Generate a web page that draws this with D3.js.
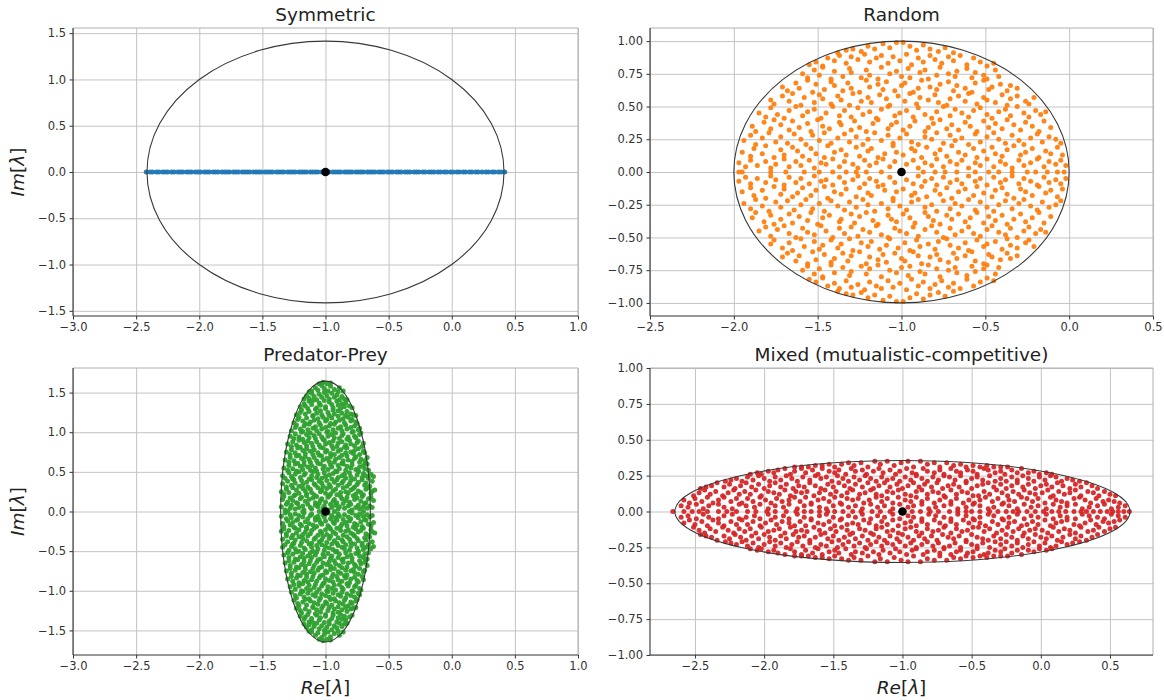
<!DOCTYPE html>
<html>
<head>
<meta charset="utf-8">
<script src="https://cdn.jsdelivr.net/npm/d3@7/dist/d3.min.js"></script>
<style>
  html, body { margin: 0; padding: 0; background: #fff; }
  svg text { font-family: "DejaVu Sans", "Liberation Sans", sans-serif; }
</style>
</head>
<body>
<svg id="fig" width="1164" height="700"></svg>
<script>
// ---------------------------------------------------------------------------
// Eigenvalue spectra of four community matrices (diagonal -1).
// Complex eigenvalues of a real matrix come in conjugate pairs, so each pair
// is stored once as [Re, Im] with Im > 0; real eigenvalues are stored apart.
// ---------------------------------------------------------------------------

// Symmetric interactions: every eigenvalue is real
const symmetricEigs = [-2.42,-2.39,-2.37,-2.34,-2.32,-2.29,-2.27,-2.25,-2.22,-2.20,-2.17,-2.15,-2.13,-2.10,-2.08,-2.06,-2.03,-2.01,-1.99,-1.96,-1.94,-1.92,-1.89,-1.87,-1.85,-1.82,-1.80,-1.78,-1.76,-1.73,-1.71,-1.69,-1.66,-1.64,-1.62,-1.60,-1.57,-1.55,-1.53,-1.51,-1.48,-1.46,-1.44,-1.42,-1.39,-1.37,-1.35,-1.33,-1.30,-1.28,-1.26,-1.24,-1.21,-1.19,-1.17,-1.15,-1.12,-1.10,-1.08,-1.06,-1.03,-1.01,-0.99,-0.97,-0.94,-0.92,-0.90,-0.88,-0.85,-0.83,-0.81,-0.79,-0.76,-0.74,-0.72,-0.70,-0.67,-0.65,-0.63,-0.61,-0.58,-0.56,-0.54,-0.51,-0.49,-0.47,-0.44,-0.42,-0.40,-0.37,-0.35,-0.33,-0.30,-0.28,-0.26,-0.23,-0.21,-0.18,-0.16,-0.14,-0.11,-0.09,-0.06,-0.04,-0.01,0.01,0.04,0.06,0.09,0.11,0.14,0.16,0.19,0.21,0.24,0.27,0.29,0.32,0.34,0.37,0.39,0.42];

// Random interactions
const randomReal = [-1.97,-1.95,-1.78,-1.69,-1.58,-1.49,-1.41,-1.33,-1.27,-1.21,-1.12,-0.87,-0.80,-0.74,-0.67,-0.56,-0.48,-0.42,-0.34,-0.25,-0.20,-0.13,-0.07,-0.03];
const randomComplex = [
[-1.97,.07],[-1.93,.04],[-1.90,.09],[-1.86,.05],[-1.81,.08],[-1.78,.03],[-1.75,.06],[-1.70,.10],[-1.67,.04],[-1.63,.08],[-1.60,.05],[-1.55,.09],[-1.52,.03],[-1.48,.07],[-1.45,.06],[-1.41,.10],[-1.37,.04],[-1.34,.08],[-1.29,.06],[-1.26,.03],[-1.22,.09],[-1.19,.05],[-1.15,.07],[-1.11,.10],[-1.07,.04],[-1.04,.08],[-0.97,.06],[-0.93,.09],[-0.90,.03],[-0.86,.07],[-0.82,.05],[-0.79,.10],[-0.75,.04],[-0.71,.08],[-0.67,.06],[-0.64,.09],[-0.60,.03],[-0.56,.07],[-0.53,.05],[-0.49,.10],[-0.45,.04],[-0.41,.08],[-0.38,.06],[-0.34,.03],[-0.30,.09],[-0.27,.05],[-0.23,.07],[-0.19,.10],[-0.15,.04],[-0.12,.08],[-0.08,.06],[-0.05,.09],[-0.02,.05],
[-1.95,.15],[-1.90,.12],[-1.88,.18],[-1.83,.14],[-1.81,.20],[-1.76,.11],[-1.72,.17],[-1.70,.13],[-1.65,.19],[-1.62,.16],[-1.59,.12],[-1.54,.18],[-1.51,.14],[-1.46,.11],[-1.44,.20],[-1.40,.15],[-1.36,.17],[-1.33,.13],[-1.27,.19],[-1.25,.12],[-1.20,.16],[-1.18,.18],[-1.14,.11],[-1.10,.14],[-1.05,.20],[-1.03,.15],[-0.99,.13],[-0.94,.18],[-0.92,.16],[-0.88,.11],[-0.85,.19],[-0.80,.14],[-0.77,.17],[-0.73,.12],[-0.70,.20],[-0.66,.15],[-0.62,.13],[-0.57,.18],[-0.55,.11],[-0.51,.16],[-0.46,.19],[-0.44,.14],[-0.40,.12],[-0.37,.17],[-0.33,.20],[-0.29,.13],[-0.26,.15],[-0.22,.18],[-0.18,.11],[-0.14,.16],[-0.11,.14],[-0.07,.19],[-0.04,.13],
[-1.94,.24],[-1.90,.28],[-1.87,.21],[-1.83,.26],[-1.79,.30],[-1.75,.23],[-1.72,.27],[-1.68,.22],[-1.64,.29],[-1.60,.25],[-1.57,.21],[-1.53,.28],[-1.49,.24],[-1.46,.30],[-1.42,.22],[-1.38,.26],[-1.34,.29],[-1.31,.23],[-1.27,.27],[-1.23,.21],[-1.20,.25],[-1.16,.30],[-1.12,.24],[-1.08,.28],[-1.05,.22],[-1.01,.26],[-0.97,.29],[-0.94,.23],[-0.90,.21],[-0.86,.27],[-0.82,.25],[-0.79,.30],[-0.75,.22],[-0.71,.28],[-0.68,.24],[-0.64,.26],[-0.60,.21],[-0.56,.29],[-0.53,.23],[-0.49,.27],[-0.45,.30],[-0.42,.25],[-0.38,.22],[-0.34,.28],[-0.30,.24],[-0.27,.21],[-0.23,.26],[-0.19,.29],[-0.16,.23],[-0.12,.27],[-0.08,.25],[-0.05,.22],
[-1.89,.35],[-1.87,.31],[-1.82,.38],[-1.78,.33],[-1.76,.40],[-1.72,.36],[-1.67,.32],[-1.65,.39],[-1.61,.34],[-1.56,.37],[-1.54,.31],[-1.50,.40],[-1.47,.35],[-1.43,.33],[-1.37,.38],[-1.36,.36],[-1.30,.32],[-1.28,.39],[-1.25,.34],[-1.21,.31],[-1.17,.37],[-1.14,.40],[-1.08,.33],[-1.06,.36],[-1.03,.38],[-0.99,.32],[-0.95,.35],[-0.92,.39],[-0.86,.31],[-0.84,.34],[-0.81,.37],[-0.77,.40],[-0.73,.33],[-0.70,.36],[-0.66,.32],[-0.62,.38],[-0.59,.35],[-0.55,.31],[-0.51,.39],[-0.48,.34],[-0.44,.37],[-0.40,.33],[-0.37,.40],[-0.33,.36],[-0.29,.32],[-0.26,.38],[-0.22,.35],[-0.18,.31],[-0.15,.39],[-0.11,.34],
[-1.85,.45],[-1.81,.42],[-1.78,.49],[-1.74,.44],[-1.70,.41],[-1.67,.47],[-1.63,.50],[-1.59,.43],[-1.56,.46],[-1.52,.48],[-1.48,.41],[-1.45,.45],[-1.41,.50],[-1.37,.43],[-1.34,.47],[-1.30,.42],[-1.26,.49],[-1.23,.44],[-1.19,.46],[-1.15,.41],[-1.12,.48],[-1.08,.50],[-1.04,.43],[-1.01,.45],[-0.97,.47],[-0.93,.42],[-0.90,.49],[-0.86,.44],[-0.82,.41],[-0.79,.46],[-0.75,.50],[-0.71,.43],[-0.68,.48],[-0.64,.45],[-0.60,.42],[-0.57,.47],[-0.53,.49],[-0.49,.44],[-0.46,.41],[-0.42,.46],[-0.38,.48],[-0.35,.43],[-0.31,.50],[-0.27,.45],[-0.24,.42],[-0.20,.47],[-0.17,.44],[-0.14,.46],
[-1.78,.55],[-1.76,.52],[-1.71,.58],[-1.67,.54],[-1.65,.60],[-1.60,.51],[-1.58,.57],[-1.52,.53],[-1.49,.59],[-1.47,.56],[-1.42,.52],[-1.38,.58],[-1.36,.55],[-1.31,.51],[-1.29,.60],[-1.24,.54],[-1.20,.57],[-1.18,.53],[-1.13,.59],[-1.09,.56],[-1.07,.51],[-1.02,.58],[-0.98,.54],[-0.95,.60],[-0.91,.52],[-0.89,.57],[-0.84,.55],[-0.80,.59],[-0.78,.53],[-0.73,.51],[-0.71,.56],[-0.66,.58],[-0.62,.54],[-0.60,.60],[-0.55,.52],[-0.51,.57],[-0.49,.55],[-0.44,.53],[-0.40,.59],[-0.37,.51],[-0.35,.56],[-0.31,.58],[-0.26,.54],[-0.24,.52],[-0.21,.57],
[-1.71,.65],[-1.68,.62],[-1.63,.68],[-1.61,.64],[-1.56,.70],[-1.53,.61],[-1.51,.67],[-1.46,.63],[-1.42,.69],[-1.40,.66],[-1.35,.62],[-1.32,.68],[-1.30,.64],[-1.25,.61],[-1.21,.70],[-1.19,.65],[-1.14,.67],[-1.11,.63],[-1.09,.69],[-1.04,.62],[-1.00,.66],[-0.98,.68],[-0.93,.61],[-0.90,.64],[-0.88,.70],[-0.83,.65],[-0.79,.63],[-0.77,.67],[-0.72,.69],[-0.69,.62],[-0.67,.66],[-0.62,.64],[-0.58,.61],[-0.56,.68],[-0.51,.70],[-0.48,.63],[-0.46,.65],[-0.41,.67],[-0.37,.62],[-0.35,.66],[-0.31,.64],
[-1.59,.75],[-1.56,.72],[-1.52,.78],[-1.49,.74],[-1.47,.80],[-1.42,.71],[-1.40,.77],[-1.35,.73],[-1.31,.79],[-1.30,.76],[-1.24,.72],[-1.21,.78],[-1.19,.74],[-1.14,.71],[-1.12,.80],[-1.07,.75],[-1.03,.77],[-1.00,.73],[-0.96,.79],[-0.95,.72],[-0.89,.76],[-0.86,.78],[-0.84,.71],[-0.79,.74],[-0.77,.80],[-0.72,.75],[-0.68,.73],[-0.67,.77],[-0.61,.79],[-0.58,.72],[-0.56,.76],[-0.51,.74],[-0.49,.71],[-0.44,.78],[-0.42,.73],
[-1.55,.82],[-1.51,.84],[-1.47,.81],[-1.44,.87],[-1.40,.85],[-1.37,.89],[-1.33,.83],[-1.30,.88],[-1.26,.86],[-1.22,.90],[-1.19,.84],[-1.15,.87],[-1.12,.89],[-1.08,.83],[-1.05,.88],[-1.01,.85],[-0.97,.90],[-0.94,.82],[-0.90,.87],[-0.87,.84],[-0.83,.89],[-0.80,.86],[-0.76,.83],[-0.72,.88],[-0.69,.85],[-0.65,.89],[-0.61,.82],[-0.57,.87],[-0.53,.84],[-0.49,.81],[-0.45,.83],
[-1.38,.91],[-1.33,.93],[-1.29,.94],[-1.24,.92],[-1.20,.96],[-1.16,.94],[-1.11,.98],[-1.07,.95],[-1.03,.99],[-0.99,.99],[-0.95,.96],[-0.91,.93],[-0.87,.97],[-0.83,.94],[-0.78,.92],[-0.74,.95],[-0.69,.91]
];

// Predator-prey interactions
const predPreyReal = [-1.30,-1.18,-1.05,-0.93,-0.81,-0.70];
const predPreyComplex = [
[-1.35,.06],[-1.32,.02],[-1.31,.09],[-1.28,.04],[-1.27,.08],[-1.24,.03],[-1.22,.10],[-1.21,.05],[-1.18,.07],[-1.17,.02],[-1.14,.09],[-1.12,.05],[-1.11,.03],[-1.08,.08],[-1.06,.06],[-1.05,.10],[-1.02,.04],[-1.01,.07],[-0.98,.02],[-0.96,.09],[-0.95,.05],[-0.92,.08],[-0.90,.03],[-0.89,.06],[-0.86,.10],[-0.85,.04],[-0.82,.07],[-0.80,.09],[-0.79,.02],[-0.76,.05],[-0.74,.08],[-0.73,.03],[-0.70,.06],[-0.69,.10],[-0.67,.04],[-0.65,.07],[-0.63,.05],
[-1.34,.15],[-1.33,.19],[-1.30,.12],[-1.28,.17],[-1.26,.14],[-1.25,.20],[-1.23,.11],[-1.20,.16],[-1.19,.18],[-1.16,.13],[-1.15,.20],[-1.13,.15],[-1.10,.17],[-1.08,.11],[-1.07,.19],[-1.04,.14],[-1.03,.16],[-1.00,.12],[-0.98,.18],[-0.97,.20],[-0.94,.13],[-0.93,.15],[-0.91,.11],[-0.88,.19],[-0.87,.16],[-0.84,.14],[-0.83,.18],[-0.81,.12],[-0.78,.20],[-0.77,.15],[-0.75,.17],[-0.72,.13],[-0.71,.19],[-0.68,.11],[-0.66,.16],[-0.64,.18],[-0.62,.14],
[-1.35,.25],[-1.33,.22],[-1.31,.28],[-1.29,.24],[-1.26,.30],[-1.24,.21],[-1.23,.27],[-1.21,.23],[-1.18,.29],[-1.16,.26],[-1.15,.22],[-1.12,.28],[-1.11,.24],[-1.09,.21],[-1.06,.30],[-1.04,.25],[-1.03,.27],[-1.00,.23],[-0.99,.29],[-0.96,.22],[-0.94,.26],[-0.92,.28],[-0.91,.21],[-0.88,.24],[-0.86,.30],[-0.84,.25],[-0.82,.23],[-0.80,.27],[-0.78,.29],[-0.76,.22],[-0.74,.26],[-0.72,.24],[-0.70,.21],[-0.68,.28],[-0.66,.30],[-0.64,.23],[-0.63,.26],
[-1.34,.35],[-1.31,.31],[-1.30,.38],[-1.27,.33],[-1.25,.40],[-1.24,.36],[-1.21,.32],[-1.19,.39],[-1.18,.34],[-1.15,.37],[-1.14,.31],[-1.11,.40],[-1.09,.35],[-1.08,.33],[-1.05,.38],[-1.03,.36],[-1.02,.32],[-0.99,.39],[-0.97,.34],[-0.96,.31],[-0.93,.37],[-0.91,.40],[-0.90,.33],[-0.87,.36],[-0.86,.38],[-0.83,.32],[-0.81,.35],[-0.80,.39],[-0.77,.31],[-0.75,.34],[-0.74,.37],[-0.71,.40],[-0.69,.33],[-0.68,.36],[-0.65,.32],[-0.63,.38],
[-1.34,.45],[-1.32,.42],[-1.29,.49],[-1.27,.44],[-1.26,.41],[-1.24,.47],[-1.21,.50],[-1.20,.43],[-1.17,.46],[-1.16,.48],[-1.13,.41],[-1.11,.45],[-1.10,.50],[-1.07,.43],[-1.06,.47],[-1.03,.42],[-1.01,.49],[-1.00,.44],[-0.97,.46],[-0.95,.41],[-0.94,.48],[-0.91,.50],[-0.90,.43],[-0.87,.45],[-0.85,.47],[-0.84,.42],[-0.81,.49],[-0.80,.44],[-0.77,.41],[-0.75,.46],[-0.74,.50],[-0.71,.43],[-0.70,.48],[-0.68,.45],[-0.66,.42],[-0.64,.47],
[-1.33,.55],[-1.30,.52],[-1.29,.58],[-1.26,.54],[-1.24,.60],[-1.23,.51],[-1.20,.57],[-1.18,.53],[-1.17,.59],[-1.14,.56],[-1.12,.52],[-1.11,.58],[-1.08,.55],[-1.07,.51],[-1.04,.60],[-1.02,.54],[-1.01,.57],[-0.98,.53],[-0.96,.59],[-0.95,.56],[-0.92,.51],[-0.90,.58],[-0.89,.54],[-0.86,.60],[-0.84,.52],[-0.83,.57],[-0.80,.55],[-0.79,.59],[-0.76,.53],[-0.74,.51],[-0.73,.56],[-0.70,.58],[-0.69,.54],[-0.67,.60],[-0.66,.52],
[-1.32,.65],[-1.29,.62],[-1.28,.68],[-1.25,.64],[-1.23,.70],[-1.22,.61],[-1.19,.67],[-1.17,.63],[-1.16,.69],[-1.13,.66],[-1.12,.62],[-1.09,.68],[-1.07,.64],[-1.06,.61],[-1.03,.70],[-1.02,.65],[-0.99,.67],[-0.97,.63],[-0.96,.69],[-0.93,.62],[-0.92,.66],[-0.89,.68],[-0.87,.61],[-0.86,.64],[-0.83,.70],[-0.82,.65],[-0.79,.63],[-0.77,.67],[-0.76,.69],[-0.73,.62],[-0.72,.66],[-0.69,.64],[-0.68,.61],[-0.67,.68],
[-1.31,.75],[-1.28,.72],[-1.27,.78],[-1.24,.74],[-1.22,.80],[-1.21,.71],[-1.18,.77],[-1.16,.73],[-1.15,.79],[-1.12,.76],[-1.10,.72],[-1.09,.78],[-1.06,.74],[-1.05,.71],[-1.02,.80],[-1.00,.75],[-0.99,.77],[-0.96,.73],[-0.94,.79],[-0.93,.72],[-0.90,.76],[-0.88,.78],[-0.87,.71],[-0.84,.74],[-0.83,.80],[-0.80,.75],[-0.78,.73],[-0.77,.77],[-0.74,.79],[-0.73,.72],[-0.70,.76],[-0.69,.74],
[-1.30,.85],[-1.27,.82],[-1.26,.88],[-1.23,.84],[-1.21,.90],[-1.20,.81],[-1.17,.87],[-1.15,.83],[-1.14,.89],[-1.11,.86],[-1.10,.82],[-1.07,.88],[-1.05,.84],[-1.04,.81],[-1.01,.90],[-1.00,.85],[-0.97,.87],[-0.95,.83],[-0.94,.89],[-0.91,.82],[-0.90,.86],[-0.87,.88],[-0.85,.81],[-0.84,.84],[-0.81,.90],[-0.80,.85],[-0.77,.83],[-0.75,.87],[-0.74,.89],[-0.71,.82],[-0.70,.86],
[-1.28,.95],[-1.25,.92],[-1.24,.98],[-1.21,.94],[-1.19,1.00],[-1.18,.91],[-1.15,.97],[-1.13,.93],[-1.12,.99],[-1.09,.96],[-1.08,.92],[-1.05,.98],[-1.03,.94],[-1.02,.91],[-0.99,1.00],[-0.98,.95],[-0.95,.97],[-0.93,.93],[-0.92,.99],[-0.89,.92],[-0.87,.96],[-0.86,.98],[-0.83,.91],[-0.82,.94],[-0.79,1.00],[-0.77,.95],[-0.76,.93],[-0.73,.97],[-0.72,.99],
[-1.27,1.02],[-1.24,1.06],[-1.23,1.09],[-1.20,1.04],[-1.18,1.01],[-1.17,1.08],[-1.14,1.03],[-1.13,1.10],[-1.10,1.05],[-1.08,1.07],[-1.07,1.02],[-1.04,1.09],[-1.03,1.04],[-1.00,1.06],[-0.98,1.01],[-0.97,1.08],[-0.94,1.03],[-0.93,1.10],[-0.90,1.05],[-0.88,1.07],[-0.87,1.02],[-0.84,1.09],[-0.83,1.04],[-0.80,1.06],[-0.78,1.01],[-0.77,1.08],[-0.74,1.03],[-0.73,1.05],
[-1.25,1.12],[-1.22,1.16],[-1.21,1.19],[-1.18,1.14],[-1.16,1.11],[-1.15,1.18],[-1.12,1.13],[-1.10,1.20],[-1.09,1.15],[-1.06,1.17],[-1.05,1.12],[-1.02,1.19],[-1.00,1.14],[-0.99,1.16],[-0.96,1.11],[-0.95,1.18],[-0.92,1.13],[-0.90,1.20],[-0.89,1.15],[-0.86,1.17],[-0.85,1.12],[-0.82,1.19],[-0.80,1.14],[-0.79,1.16],[-0.76,1.13],[-0.75,1.11],
[-1.23,1.22],[-1.20,1.25],[-1.19,1.28],[-1.16,1.23],[-1.14,1.30],[-1.13,1.26],[-1.10,1.21],[-1.08,1.29],[-1.07,1.24],[-1.04,1.27],[-1.03,1.22],[-1.00,1.30],[-0.98,1.25],[-0.97,1.21],[-0.94,1.28],[-0.93,1.23],[-0.90,1.27],[-0.88,1.30],[-0.87,1.24],[-0.84,1.21],[-0.83,1.26],[-0.80,1.23],[-0.78,1.22],[-0.76,1.21],
[-1.20,1.32],[-1.17,1.36],[-1.16,1.33],[-1.13,1.39],[-1.11,1.35],[-1.10,1.40],[-1.07,1.31],[-1.05,1.37],[-1.04,1.34],[-1.01,1.40],[-1.00,1.32],[-0.97,1.38],[-0.95,1.35],[-0.94,1.31],[-0.91,1.39],[-0.90,1.34],[-0.87,1.36],[-0.85,1.32],[-0.84,1.37],[-0.81,1.33],[-0.79,1.31],
[-1.17,1.42],[-1.15,1.46],[-1.13,1.43],[-1.11,1.49],[-1.09,1.45],[-1.07,1.41],[-1.05,1.48],[-1.03,1.44],[-1.01,1.50],[-0.99,1.46],[-0.97,1.42],[-0.95,1.49],[-0.93,1.44],[-0.91,1.47],[-0.89,1.41],[-0.87,1.45],[-0.85,1.42],[-0.83,1.41],
[-1.13,1.51],[-1.11,1.52],[-1.08,1.56],[-1.06,1.53],[-1.03,1.59],[-1.01,1.55],[-0.98,1.52],[-0.96,1.58],[-0.93,1.54],[-0.90,1.51],[-0.89,1.56],[-0.86,1.52],
[-1.05,1.61],[-1.02,1.63],[-0.99,1.61],[-0.96,1.62],
[-0.62,.44],[-0.61,.27]
];

// Mixed mutualistic-competitive interactions
const mixedReal = [-2.66,-2.58,-2.52,-2.47,-2.41,-2.33,-2.27,-2.20,-2.12,-2.06,-1.98,-1.92,-1.84,-1.77,-1.71,-1.66,-1.60,-1.54,-1.49,-1.43,-1.36,-1.30,-1.22,-1.16,-1.09,-0.93,-0.87,-0.80,-0.74,-0.66,-0.60,-0.54,-0.50,-0.44,-0.37,-0.31,-0.25,-0.20,-0.16,-0.10,-0.04,0.02,0.08,0.13,0.18,0.24,0.29,0.33,0.38,0.43,0.48,0.52,0.56,0.60,0.64];
const mixedComplex = [
[-2.60,.04],[-2.55,.03],[-2.49,.05],[-2.44,.02],[-2.40,.04],[-2.33,.05],[-2.29,.03],[-2.23,.02],[-2.18,.05],[-2.13,.04],[-2.07,.03],[-2.03,.05],[-1.97,.02],[-1.92,.04],[-1.86,.03],[-1.82,.05],[-1.76,.02],[-1.71,.04],[-1.66,.05],[-1.60,.03],[-1.55,.02],[-1.50,.04],[-1.44,.05],[-1.39,.03],[-1.34,.04],[-1.29,.02],[-1.23,.05],[-1.18,.03],[-1.13,.04],[-1.07,.02],[-1.02,.05],[-0.96,.03],[-0.92,.04],[-0.86,.05],[-0.81,.02],[-0.76,.03],[-0.70,.04],[-0.65,.05],[-0.60,.02],[-0.54,.03],[-0.49,.05],[-0.44,.04],[-0.38,.02],[-0.34,.03],[-0.28,.05],[-0.23,.04],[-0.17,.02],[-0.12,.05],[-0.07,.03],[-0.02,.04],[0.04,.02],[0.09,.05],[0.14,.03],[0.19,.04],[0.25,.05],[0.30,.02],[0.35,.03],[0.41,.04],[0.46,.05],[0.51,.02],[0.56,.03],[0.61,.04],
[-2.58,.08],[-2.54,.06],[-2.50,.09],[-2.45,.07],[-2.41,.10],[-2.37,.06],[-2.33,.08],[-2.29,.10],[-2.24,.07],[-2.20,.09],[-2.16,.06],[-2.12,.09],[-2.08,.07],[-2.03,.10],[-1.99,.08],[-1.95,.06],[-1.91,.09],[-1.87,.07],[-1.82,.08],[-1.78,.10],[-1.74,.07],[-1.70,.10],[-1.66,.06],[-1.61,.08],[-1.57,.09],[-1.53,.07],[-1.49,.10],[-1.45,.06],[-1.40,.09],[-1.36,.08],[-1.32,.09],[-1.28,.06],[-1.24,.08],[-1.19,.10],[-1.15,.07],[-1.11,.09],[-1.07,.06],[-1.03,.10],[-0.98,.08],[-0.94,.07],[-0.90,.10],[-0.86,.07],[-0.82,.09],[-0.77,.06],[-0.73,.08],[-0.69,.10],[-0.65,.07],[-0.61,.09],[-0.56,.06],[-0.52,.08],[-0.48,.06],[-0.44,.08],[-0.40,.10],[-0.35,.07],[-0.31,.09],[-0.27,.06],[-0.23,.08],[-0.19,.07],[-0.14,.10],[-0.10,.09],[-0.06,.07],[-0.02,.09],[0.03,.06],[0.07,.10],[0.11,.08],[0.15,.07],[0.19,.06],[0.24,.09],[0.28,.10],[0.32,.08],[0.36,.06],[0.40,.09],[0.45,.07],[0.49,.08],[0.53,.07],[0.57,.06],
[-2.51,.11],[-2.47,.13],[-2.43,.15],[-2.39,.12],[-2.35,.14],[-2.30,.11],[-2.26,.13],[-2.22,.15],[-2.18,.12],[-2.14,.14],[-2.10,.12],[-2.06,.15],[-2.02,.11],[-1.97,.14],[-1.93,.13],[-1.89,.12],[-1.85,.15],[-1.81,.11],[-1.77,.14],[-1.73,.13],[-1.69,.14],[-1.64,.11],[-1.60,.13],[-1.56,.15],[-1.52,.12],[-1.48,.14],[-1.44,.11],[-1.40,.13],[-1.36,.15],[-1.31,.12],[-1.27,.13],[-1.23,.15],[-1.19,.12],[-1.15,.11],[-1.11,.14],[-1.07,.13],[-1.03,.15],[-0.98,.12],[-0.94,.11],[-0.90,.14],[-0.86,.15],[-0.82,.12],[-0.78,.14],[-0.74,.13],[-0.70,.11],[-0.65,.15],[-0.61,.12],[-0.57,.14],[-0.53,.13],[-0.49,.11],[-0.45,.11],[-0.41,.14],[-0.37,.12],[-0.32,.15],[-0.28,.13],[-0.24,.11],[-0.20,.14],[-0.16,.12],[-0.12,.15],[-0.08,.13],[-0.04,.12],[0.01,.13],[0.05,.15],[0.09,.11],[0.13,.14],[0.17,.12],[0.21,.13],[0.25,.15],[0.29,.11],[0.34,.14],[0.38,.13],[0.42,.11],[0.46,.14],[0.50,.12],[0.54,.11],
[-2.46,.16],[-2.42,.17],[-2.38,.18],[-2.34,.20],[-2.29,.17],[-2.25,.19],[-2.21,.16],[-2.17,.18],[-2.13,.20],[-2.09,.17],[-2.04,.19],[-2.00,.16],[-1.96,.18],[-1.92,.20],[-1.88,.17],[-1.84,.19],[-1.79,.16],[-1.75,.18],[-1.71,.17],[-1.67,.20],[-1.63,.18],[-1.59,.16],[-1.54,.19],[-1.50,.17],[-1.46,.20],[-1.42,.18],[-1.38,.16],[-1.34,.19],[-1.29,.17],[-1.25,.20],[-1.21,.16],[-1.17,.18],[-1.13,.20],[-1.09,.17],[-1.04,.19],[-1.00,.16],[-0.96,.18],[-0.92,.20],[-0.88,.17],[-0.84,.19],[-0.79,.17],[-0.75,.20],[-0.71,.16],[-0.67,.18],[-0.63,.19],[-0.59,.17],[-0.54,.20],[-0.50,.16],[-0.46,.18],[-0.42,.19],[-0.38,.20],[-0.34,.17],[-0.29,.19],[-0.25,.16],[-0.21,.18],[-0.17,.20],[-0.13,.17],[-0.09,.19],[-0.04,.16],[0.00,.18],[0.04,.19],[0.08,.17],[0.12,.20],[0.16,.18],[0.21,.16],[0.25,.19],[0.29,.17],[0.33,.20],[0.37,.18],[0.41,.16],
[-2.28,.21],[-2.24,.22],[-2.20,.23],[-2.16,.21],[-2.12,.24],[-2.08,.22],[-2.04,.25],[-2.00,.23],[-1.96,.21],[-1.92,.24],[-1.88,.22],[-1.84,.25],[-1.80,.23],[-1.76,.21],[-1.72,.24],[-1.67,.22],[-1.63,.25],[-1.59,.23],[-1.55,.24],[-1.51,.21],[-1.47,.25],[-1.43,.23],[-1.39,.21],[-1.35,.24],[-1.31,.22],[-1.27,.25],[-1.23,.23],[-1.19,.21],[-1.15,.24],[-1.11,.22],[-1.07,.23],[-1.02,.21],[-0.98,.24],[-0.94,.22],[-0.90,.25],[-0.86,.23],[-0.82,.21],[-0.78,.24],[-0.74,.22],[-0.70,.25],[-0.66,.24],[-0.62,.22],[-0.58,.25],[-0.54,.21],[-0.50,.23],[-0.46,.24],[-0.42,.22],[-0.37,.25],[-0.33,.21],[-0.29,.23],[-0.25,.21],[-0.21,.24],[-0.17,.22],[-0.13,.25],[-0.09,.23],[-0.05,.21],[-0.01,.24],[0.03,.22],[0.07,.25],[0.11,.24],[0.15,.21],[0.19,.23],[0.23,.22],[0.28,.21],
[-2.10,.26],[-2.05,.27],[-2.02,.26],[-1.97,.28],[-1.93,.27],[-1.90,.29],[-1.85,.30],[-1.81,.26],[-1.78,.28],[-1.73,.30],[-1.70,.27],[-1.65,.29],[-1.61,.26],[-1.58,.30],[-1.53,.28],[-1.49,.27],[-1.46,.29],[-1.41,.26],[-1.37,.30],[-1.34,.28],[-1.29,.29],[-1.26,.26],[-1.21,.28],[-1.17,.30],[-1.14,.27],[-1.09,.29],[-1.05,.26],[-1.02,.28],[-0.97,.30],[-0.93,.27],[-0.90,.26],[-0.85,.30],[-0.82,.28],[-0.77,.27],[-0.73,.29],[-0.70,.26],[-0.65,.30],[-0.61,.28],[-0.58,.27],[-0.53,.29],[-0.49,.28],[-0.46,.26],[-0.41,.30],[-0.38,.29],[-0.33,.27],[-0.29,.28],[-0.26,.26],[-0.21,.29],[-0.17,.27],[-0.14,.30],[-0.09,.27],[-0.05,.28],[-0.01,.26],[0.04,.27],[0.08,.26],
[-1.78,.31],[-1.73,.31],[-1.68,.31],[-1.63,.32],[-1.58,.32],[-1.53,.33],[-1.49,.31],[-1.44,.33],[-1.39,.34],[-1.35,.32],[-1.30,.34],[-1.25,.31],[-1.20,.35],[-1.16,.33],[-1.11,.35],[-1.06,.32],[-1.01,.34],[-0.96,.35],[-0.92,.31],[-0.87,.35],[-0.82,.33],[-0.77,.34],[-0.73,.31],[-0.68,.34],[-0.63,.32],[-0.58,.33],[-0.54,.31],[-0.49,.32],[-0.44,.31],[-0.39,.32],[-0.34,.31],[-0.29,.31],[-0.24,.31]
];

// Centre of every spectrum and the semi-axes (Re, Im) of its bounding ellipse
const centre = [-1, 0];
const symmetricAxes = [1.414, 1.414];
const randomAxes = [1, 1];
const predPreyAxes = [0.355, 1.645];
const mixedAxes = [1.645, 0.355];

// Tick values
const xTicksWide = [-3, -2.5, -2, -1.5, -1, -0.5, 0, 0.5, 1];
const xTicksNarrow = [-2.5, -2, -1.5, -1, -0.5, 0, 0.5];
const yTicksHalf = [-1.5, -1, -0.5, 0, 0.5, 1, 1.5];
const yTicksQuarter = [-1, -0.75, -0.5, -0.25, 0, 0.25, 0.5, 0.75, 1];

const titles = ["Symmetric", "Random", "Predator-Prey", "Mixed (mutualistic-competitive)"];
const colors = ["#1f77b4", "#ff7f0e", "#2ca02c", "#d62728"];

// ---------------------------------------------------------------------------
// Layout of the 2 x 2 grid of axes
// ---------------------------------------------------------------------------
const panels = [
  { title: titles[0], color: colors[0], box: [73, 28, 578, 316], xDomain: [-3, 1], yDomain: [-1.556, 1.556],
    xTicks: xTicksWide, yTicks: yTicksHalf, yFormat: ".1f", real: symmetricEigs, complex: [], axes: symmetricAxes,
    yLabel: true, xLabel: false },
  { title: titles[1], color: colors[1], box: [650, 28, 1153, 316], xDomain: [-2.5, 0.5], yDomain: [-1.1, 1.1],
    xTicks: xTicksNarrow, yTicks: yTicksQuarter, yFormat: ".2f", real: randomReal, complex: randomComplex, axes: randomAxes,
    yLabel: false, xLabel: false },
  { title: titles[2], color: colors[2], box: [73, 368, 578, 655], xDomain: [-3, 1], yDomain: [-1.81, 1.81],
    xTicks: xTicksWide, yTicks: yTicksHalf, yFormat: ".1f", real: predPreyReal, complex: predPreyComplex, axes: predPreyAxes,
    yLabel: true, xLabel: true },
  { title: titles[3], color: colors[3], box: [650, 368, 1153, 655], xDomain: [-2.825, 0.811], yDomain: [-1, 1],
    xTicks: xTicksNarrow, yTicks: yTicksQuarter, yFormat: ".2f", real: mixedReal, complex: mixedComplex, axes: mixedAxes,
    yLabel: false, xLabel: true }
];

const svg = d3.select("#fig");
const gridColor = "#c3c3c3";
const inkColor = "#333";
const tickFont = 11.5;
const markerRadius = 2.5;

function mathLabel(sel, name) {
  // mathtext-style label: italic symbols, upright brackets
  sel.append("tspan").attr("font-style", "italic").text(name);
  sel.append("tspan").text("[");
  sel.append("tspan").attr("font-style", "italic").text("λ");
  sel.append("tspan").text("]");
}

panels.forEach(p => {
  const [x0, y0, x1, y1] = p.box;
  const x = d3.scaleLinear().domain(p.xDomain).range([x0, x1]);
  const y = d3.scaleLinear().domain(p.yDomain).range([y1, y0]);
  const g = svg.append("g");

  // grid lines
  g.append("g")
    .attr("transform", `translate(0,${y1})`)
    .call(d3.axisBottom(x).tickValues(p.xTicks).tickSize(-(y1 - y0)).tickFormat(""))
    .call(a => a.select(".domain").remove())
    .call(a => a.selectAll("line").attr("stroke", gridColor).attr("stroke-width", 1));
  g.append("g")
    .attr("transform", `translate(${x0},0)`)
    .call(d3.axisLeft(y).tickValues(p.yTicks).tickSize(-(x1 - x0)).tickFormat(""))
    .call(a => a.select(".domain").remove())
    .call(a => a.selectAll("line").attr("stroke", gridColor).attr("stroke-width", 1));

  // eigenvalues: real ones on the axis, complex ones with their conjugates
  const points = p.real.map(r => [r, 0]);
  p.complex.forEach(([re, im]) => { points.push([re, im]); points.push([re, -im]); });

  g.append("g")
    .selectAll("circle")
    .data(points)
    .join("circle")
    .attr("cx", d => x(d[0]))
    .attr("cy", d => y(d[1]))
    .attr("r", markerRadius)
    .attr("fill", p.color)
    .attr("fill-opacity", 0.95);

  // bounding ellipse of the spectrum
  g.append("ellipse")
    .attr("cx", x(centre[0]))
    .attr("cy", y(centre[1]))
    .attr("rx", x(centre[0] + p.axes[0]) - x(centre[0]))
    .attr("ry", y(centre[1]) - y(centre[1] + p.axes[1]))
    .attr("fill", "none")
    .attr("stroke", "#383838")
    .attr("stroke-width", 1.1);

  // self-regulation centre
  g.append("circle")
    .attr("cx", x(centre[0]))
    .attr("cy", y(centre[1]))
    .attr("r", 4.3)
    .attr("fill", "#000");

  // frame
  g.append("line").attr("x1", x0).attr("x2", x1).attr("y1", y0).attr("y2", y0).attr("stroke", "#b0b0b0");
  g.append("line").attr("x1", x1).attr("x2", x1).attr("y1", y0).attr("y2", y1).attr("stroke", "#b0b0b0");
  g.append("line").attr("x1", x0).attr("x2", x1).attr("y1", y1).attr("y2", y1).attr("stroke", inkColor).attr("stroke-width", 1.1);
  g.append("line").attr("x1", x0).attr("x2", x0).attr("y1", y0).attr("y2", y1).attr("stroke", inkColor).attr("stroke-width", 1.1);

  // axes with tick labels
  const styleAxis = a => {
    a.attr("font-size", null).attr("font-family", null);
    a.select(".domain").remove();
    a.selectAll("line").attr("stroke", inkColor);
    a.selectAll("text").attr("font-size", tickFont).attr("fill", inkColor);
  };
  g.append("g")
    .attr("transform", `translate(0,${y1})`)
    .call(d3.axisBottom(x).tickValues(p.xTicks).tickFormat(d3.format(".1f")).tickSize(3.5).tickPadding(3.5))
    .call(styleAxis);
  g.append("g")
    .attr("transform", `translate(${x0},0)`)
    .call(d3.axisLeft(y).tickValues(p.yTicks).tickFormat(d3.format(p.yFormat)).tickSize(3.5).tickPadding(3.5))
    .call(styleAxis);

  // title
  g.append("text")
    .attr("x", (x0 + x1) / 2)
    .attr("y", y0 - 7)
    .attr("text-anchor", "middle")
    .attr("font-size", 18.5)
    .attr("fill", "#222")
    .text(p.title);

  if (p.yLabel) {
    const cy = (y0 + y1) / 2;
    g.append("text")
      .attr("transform", `translate(24,${cy}) rotate(-90)`)
      .attr("text-anchor", "middle")
      .attr("font-size", 18.5)
      .attr("fill", "#222")
      .call(t => mathLabel(t, "Im"));
  }
  if (p.xLabel) {
    g.append("text")
      .attr("x", (x0 + x1) / 2)
      .attr("y", 694)
      .attr("text-anchor", "middle")
      .attr("font-size", 18.5)
      .attr("fill", "#222")
      .call(t => mathLabel(t, "Re"));
  }
});
</script>
</body>
</html>
